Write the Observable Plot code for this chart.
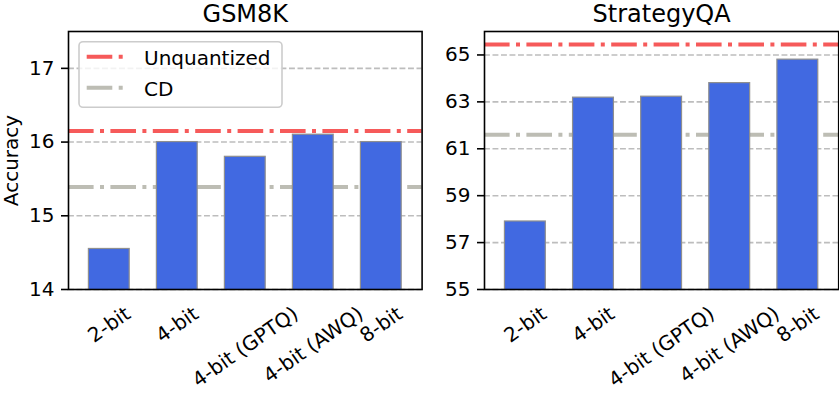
<!DOCTYPE html>
<html>
<head>
<meta charset="utf-8">
<script src="https://cdn.jsdelivr.net/npm/d3@7"></script>
<script src="https://cdn.jsdelivr.net/npm/@observablehq/plot@0.6"></script>
<style>
  html, body { margin: 0; padding: 0; background: white; }
  #root { position: relative; width: 839px; height: 396px; overflow: hidden; font-family: "DejaVu Sans", sans-serif; }
  #root svg { position: absolute; top: 0; overflow: visible; }
</style>
</head>
<body>
<div id="root"></div>
<script>
const categories = ["2-bit", "4-bit", "4-bit (GPTQ)", "4-bit (AWQ)", "8-bit"];
const gsm8kValues = [14.55, 16.0, 15.8, 16.1, 16.0];
const strategyqaValues = [57.9, 63.18, 63.22, 63.8, 64.8];
const gsm8kUnquantized = 16.15;
const gsm8kCD = 15.39;
const strategyqaUnquantized = 65.45;
const strategyqaCD = 61.6;
const gsm8kTicks = [14, 15, 16, 17];
const strategyqaTicks = [55, 57, 59, 61, 63, 65];
const gsm8kDomain = [14, 17.5];
const strategyqaDomain = [55, 66];
const legendLabels = ["Unquantized", "CD"];

const FONT = "DejaVu Sans";
const RED = "#f65a5a";
const GRAY = "#bdbdb4";
const DASHDOT = "25.6 6.4 4 6.4";

const ctx = document.createElement("canvas").getContext("2d");
ctx.font = `20px "${FONT}"`;
const ang = 35 * Math.PI / 180;
function labelOffset(s) {
  const L = ctx.measureText(s).width;
  const H = L * Math.sin(ang) + 15 * Math.cos(ang);
  return 16 + H / 2;
}

function panel({values, ticks, domain, unq, cd, title, yLabel, width, marginLeft, marginRight}) {
  const data = categories.map((c, i) => ({cat: c, value: values[i]}));
  const marks = [
    Plot.gridY(ticks, {stroke: "#bdbdbd", strokeOpacity: 1, strokeWidth: 1.6, strokeDasharray: "5.9 2.6"}),
    Plot.ruleY([cd], {stroke: GRAY, strokeWidth: 4, strokeDasharray: DASHDOT}),
    Plot.ruleY([unq], {stroke: RED, strokeWidth: 4, strokeDasharray: DASHDOT}),
    Plot.barY(data, {x: "cat", y: "value", fill: "#4169e1", stroke: "#8f8f8f", strokeWidth: 1.2, inset: 0, clip: true}),
    Plot.axisY({ticks, tickSize: 7, tickPadding: 7, strokeWidth: 1.6, label: null, fontSize: 20, tickFormat: d3.format("d")}),
    Plot.frame({stroke: "black", strokeWidth: 1.6}),
    Plot.text([title], {frameAnchor: "top", dy: -17.5, fontSize: 24, lineAnchor: "middle", textAnchor: "middle"}),
    ...categories.map(c => Plot.text([c], {x: d => d, frameAnchor: "bottom", dy: labelOffset(c), rotate: -35, textAnchor: "middle", lineAnchor: "middle", fontSize: 20}))
  ];
  if (yLabel) marks.push(Plot.text([yLabel], {frameAnchor: "left", dx: -57, rotate: -90, textAnchor: "middle", lineAnchor: "middle", fontSize: 20}));
  return Plot.plot({
    width, height: 396,
    marginTop: 31, marginBottom: 107, marginLeft, marginRight,
    x: {type: "band", domain: categories, paddingInner: 0.4, paddingOuter: 0.3, round: false, axis: null},
    y: {domain, axis: null},
    style: {fontFamily: FONT, fontSize: "20px", color: "black", background: "transparent", overflow: "visible"},
    marks
  });
}

const root = document.getElementById("root");
const left = panel({values: gsm8kValues, ticks: gsm8kTicks, domain: gsm8kDomain, unq: gsm8kUnquantized, cd: gsm8kCD,
  title: "GSM8K", yLabel: "Accuracy", width: 430, marginLeft: 68, marginRight: 8.4});
left.style.left = "0px";
root.appendChild(left);

const right = panel({values: strategyqaValues, ticks: strategyqaTicks, domain: strategyqaDomain, unq: strategyqaUnquantized, cd: strategyqaCD,
  title: "StrategyQA", yLabel: null, width: 409, marginLeft: 54, marginRight: 0.8});
right.style.left = "430px";
root.appendChild(right);

// legend (upper-left of GSM8K panel)
const lg = d3.select(left).append("g").attr("font-family", FONT).attr("font-size", 20).attr("text-anchor", "start");
lg.append("rect").attr("x", 79).attr("y", 41.7).attr("width", 203).attr("height", 65.6)
  .attr("rx", 4).attr("fill", "white").attr("fill-opacity", 0.8).attr("stroke", "#cccccc").attr("stroke-width", 1.6);
const items = [{label: legendLabels[0], color: RED, y: 56.7}, {label: legendLabels[1], color: GRAY, y: 87.7}];
for (const it of items) {
  lg.append("line").attr("x1", 86.7).attr("x2", 123.3).attr("y1", it.y).attr("y2", it.y)
    .attr("stroke", it.color).attr("stroke-width", 4).attr("stroke-dasharray", DASHDOT);
  lg.append("text").attr("x", 144).attr("y", it.y + 8).attr("text-anchor", "start").attr("fill", "black").text(it.label);
}
</script>
</body>
</html>
